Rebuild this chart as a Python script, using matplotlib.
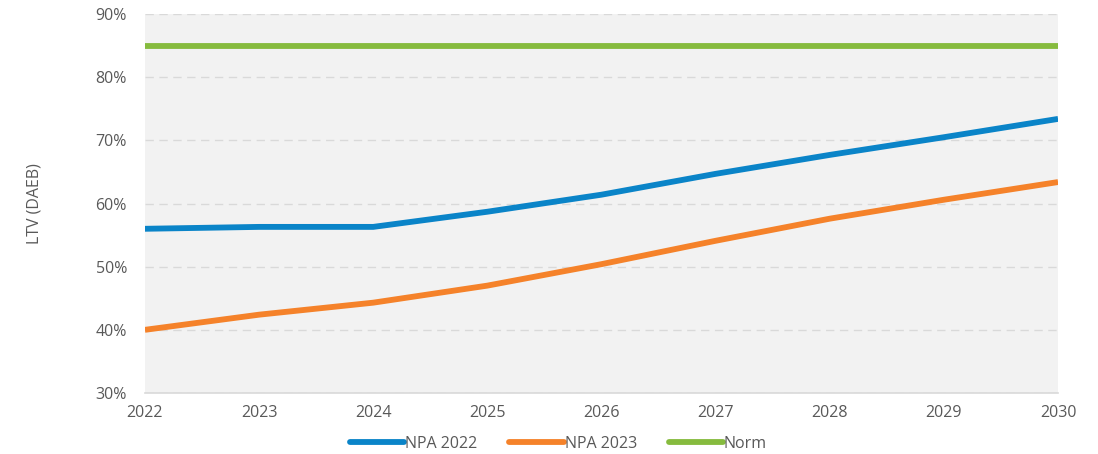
"""LTV (DAEB) projection: NPA 2022 vs NPA 2023 against the norm."""

import matplotlib
matplotlib.use("Agg")
import matplotlib.pyplot as plt
from matplotlib.ticker import FuncFormatter

years = [2022, 2023, 2024, 2025, 2026, 2027, 2028, 2029, 2030]
npa_2022 = [56.0, 56.3, 56.3, 58.7, 61.4, 64.7, 67.7, 70.5, 73.4]
npa_2023 = [40.0, 42.4, 44.3, 47.0, 50.4, 54.1, 57.6, 60.6, 63.4]
norm = [85, 85, 85, 85, 85, 85, 85, 85, 85]

plt.rcParams["font.family"] = ["Open Sans", "DejaVu Sans"]

fig = plt.figure(figsize=(10.98, 4.54), dpi=100)
ax = fig.add_axes([0.132, 0.1344, 0.8316, 0.8346])
ax.set_facecolor("#f2f2f2")

lw = 4.2
ax.plot(years, npa_2022, color="#0a84c8", lw=lw, label="NPA 2022", solid_capstyle="butt")
ax.plot(years, npa_2023, color="#f5822a", lw=lw, label="NPA 2023", solid_capstyle="butt")
ax.plot(years, norm, color="#86bb3e", lw=lw, label="Norm", solid_capstyle="butt")

ax.set_xlim(2022, 2030)
ax.set_ylim(30, 90)
ax.set_xticks(years)
ax.set_yticks(range(30, 91, 10))
ax.yaxis.set_major_formatter(FuncFormatter(lambda v, _: f"{v:.0f}%"))
ax.grid(axis="y", color="#d9d9d9", linestyle=(0, (6, 4)), linewidth=1)
ax.set_axisbelow(True)

for side in ("top", "right", "left"):
    ax.spines[side].set_visible(False)
ax.spines["bottom"].set_color("#d9d9d9")
ax.spines["bottom"].set_linewidth(1.2)

fs = 11.5
ax.tick_params(axis="both", length=0, labelsize=fs, colors="#595959")
ax.tick_params(axis="x", pad=9)
ax.tick_params(axis="y", pad=13)
ax.set_ylabel("LTV (DAEB)", fontsize=fs, color="#595959", labelpad=38)

leg = ax.legend(loc="upper center", bbox_to_anchor=(0.453, -0.075), ncol=3, frameon=False,
                fontsize=fs, handlelength=3.4, handletextpad=0.05, columnspacing=2.0)
for t in leg.get_texts():
    t.set_color("#595959")
for h in leg.get_lines():
    h.set_solid_capstyle("round")

fig.savefig("out.png", dpi=100)
